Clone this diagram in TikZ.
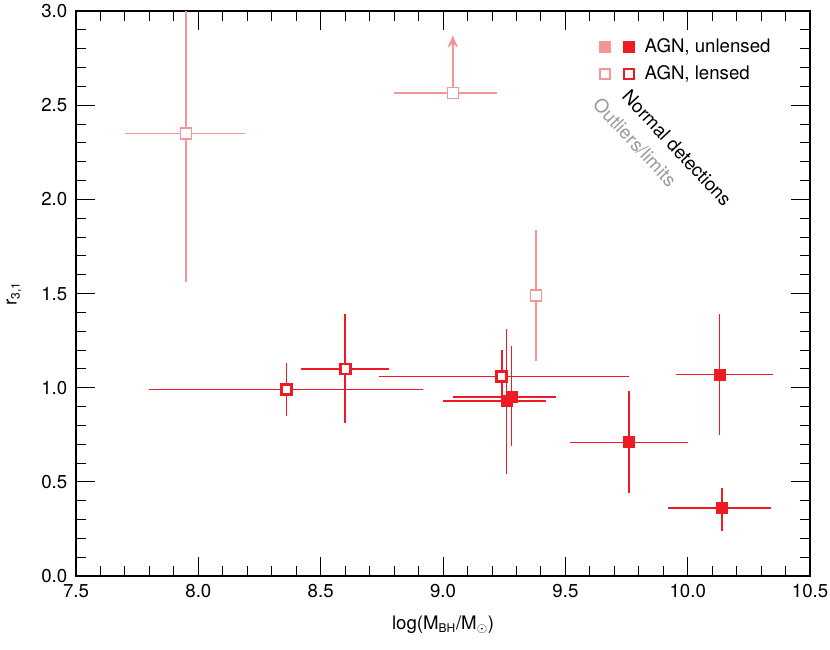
\documentclass[tikz,border=0pt]{standalone}
\usepackage{fontspec}
\setmainfont{TeX Gyre Heros}
\usetikzlibrary{arrows.meta}
\definecolor{agn}{RGB}{237,28,36}
\definecolor{pale}{RGB}{245,150,150}
\begin{document}
\begin{tikzpicture}[x=0.75pt,y=-0.75pt,
  declare function={px(\a)=76+(\a-7.5)*244.7; py(\b)=576-\b*188.3;},
  font=\fontsize{14}{16}\selectfont]
\useasboundingbox (0,0) rectangle (830,649);
% axes
\draw[line width=0.9pt] (76,11) rectangle (810,576);
\foreach \i in {0,...,30}{
  \pgfmathsetmacro{\xx}{px(7.5+\i/10)}
  \pgfmathtruncatemacro{\m}{mod(\i,5)}
  \ifnum\m=0 \def\L{19}\else\def\L{10}\fi
  \draw[line width=0.7pt] (\xx,576) -- ++(0,-\L) (\xx,11) -- ++(0,\L);
}
\foreach \i in {0,...,30}{
  \pgfmathsetmacro{\yy}{py(\i/10)}
  \pgfmathtruncatemacro{\m}{mod(\i,5)}
  \ifnum\m=0 \def\L{19}\else\def\L{10}\fi
  \draw[line width=0.7pt] (76,\yy) -- ++(\L,0) (810,\yy) -- ++(-\L,0);
}
\foreach \v in {7.5,8.0,8.5,9.0,9.5,10.0,10.5}
  \node[anchor=north] at ({px(\v)},580) {\v};
\foreach \v in {0.0,0.5,1.0,1.5,2.0,2.5,3.0}
  \node[anchor=east] at (72,{py(\v)}) {\v};
\node at (443,625) {log(M\textsubscript{\fontsize{9}{9}\selectfont BH}/M\textsubscript{$\odot$})};
\node[rotate=90] at (14,{py(1.5)}) {r\textsubscript{\fontsize{9}{9}\selectfont 3,1}};
% error bars
\tikzset{eb/.style={line width=1.2pt}}
% pale outliers
\draw[eb,pale] ({px(7.70)},{py(2.35)}) -- ({px(8.19)},{py(2.35)}) ({px(7.95)},{py(1.56)}) -- ({px(7.95)},{py(3.0)});
\draw[eb,pale] ({px(8.80)},{py(2.565)}) -- ({px(9.22)},{py(2.565)});
\draw[eb,pale,-{Stealth[length=9pt,width=8pt]}] ({px(9.04)},{py(2.565)}) -- ({px(9.04)},{py(2.87)});
\draw[eb,pale] ({px(9.38)},{py(1.14)}) -- ({px(9.38)},{py(1.84)});
\foreach \a/\b in {7.95/2.35,9.04/2.565,9.38/1.49}
  \draw[pale,fill=white,line width=1pt] ({px(\a)-5.5},{py(\b)-5.5}) rectangle ++(11,11);
% red
\foreach \a/\b/\xl/\xh/\yl/\yh in {8.36/0.99/7.80/8.92/0.85/1.13, 8.60/1.10/8.42/8.78/0.81/1.39, 9.24/1.06/8.74/9.76/0.90/1.20, 9.26/0.93/9.00/9.42/0.54/1.31, 9.28/0.95/9.04/9.46/0.69/1.22, 9.76/0.71/9.52/10.00/0.44/0.98, 10.13/1.07/9.95/10.35/0.75/1.39, 10.14/0.36/9.92/10.34/0.24/0.47}
  \draw[eb,agn] ({px(\xl)},{py(\b)}) -- ({px(\xh)},{py(\b)}) ({px(\a)},{py(\yl)}) -- ({px(\a)},{py(\yh)});
\foreach \a/\b in {8.36/0.99,8.60/1.10,9.24/1.06}
  \draw[agn,fill=white,line width=2pt] ({px(\a)-5},{py(\b)-5}) rectangle ++(10,10);
\foreach \a/\b in {9.26/0.93,9.28/0.95,9.76/0.71,10.13/1.07,10.14/0.36}
  \fill[agn] ({px(\a)-6},{py(\b)-6}) rectangle ++(12,12);
% legend
\fill[pale] (599,41) rectangle ++(12,12);
\fill[agn] (623,41) rectangle ++(12,12);
\draw[pale,line width=1pt] (600,69) rectangle ++(10,10);
\draw[agn,line width=2pt] (624,69) rectangle ++(10,10);
\node[anchor=west] at (640,47) {AGN, unlensed};
\node[anchor=west] at (640,74) {AGN, lensed};
\node[rotate=-47,anchor=north west,inner sep=0pt] at (631,88) {Normal detections};
\node[rotate=-47,anchor=north west,inner sep=0pt,gray!80] at (602,96) {Outliers/limits};
\end{tikzpicture}
\end{document}
